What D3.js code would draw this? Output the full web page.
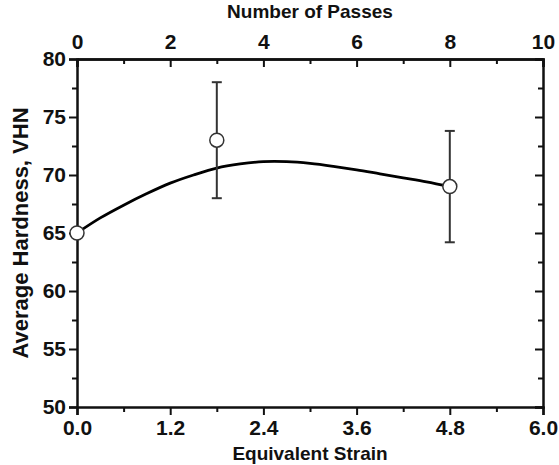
<!DOCTYPE html>
<html>
<head>
<meta charset="utf-8">
<script src="https://cdn.jsdelivr.net/npm/d3@7"></script>
<style>
  body { margin: 0; background: #fff; }
  svg text { font-family: "Liberation Sans", Arial, sans-serif; font-weight: bold; fill: #111; }
</style>
</head>
<body>
<div class="chart"></div>
<script>
// Measured points (strain, hardness, error)
const strain = [0, 1.8, 4.8]
const hardness = [65, 73, 69]
const hardErr = [0, 5, 4.8]

// Fitted trend line
const fitStrain = [0, 0.3, 0.6, 0.9, 1.2, 1.5, 1.8, 2.1, 2.4, 2.7, 3.0, 3.3, 3.6, 3.9, 4.2, 4.5, 4.8]
const fitHard = [65, 66.3, 67.4, 68.4, 69.3, 70.0, 70.6, 70.95, 71.15, 71.15, 71.0, 70.75, 70.45, 70.1, 69.75, 69.4, 69.0]

// Tick labels
const strainTicks = [0, 1.2, 2.4, 3.6, 4.8, 6.0]
const passTicks = [0, 2, 4, 6, 8, 10]
const hardTicks = [50, 55, 60, 65, 70, 75, 80]

const svgWidth = 559, svgHeight = 465
const plotL = 77, plotR = 543, plotT = 59, plotB = 407

const svg = d3.select(".chart")
  .append("svg")
  .attr("width", svgWidth)
  .attr("height", svgHeight)

const xScale = d3.scaleLinear().domain([0, 6]).range([plotL, plotR])
const passScale = d3.scaleLinear().domain([0, 10]).range([plotL, plotR])
const yScale = d3.scaleLinear().domain([50, 80]).range([plotB, plotT])

// helper for axis styling
function styleAxis(g) {
  g.select(".domain").attr("stroke", "#111").attr("stroke-width", 2.5)
  g.selectAll(".tick line").attr("stroke", "#111").attr("stroke-width", 2)
  g.selectAll(".tick text").attr("font-size", 21).attr("fill", "#111")
}

// minor ticks
function minor(axisFn, scale, vals, size, transform) {
  svg.append("g")
     .attr("transform", transform)
     .call(axisFn(scale).tickValues(vals).tickSize(size).tickFormat(""))
     .call(g => g.select(".domain").remove())
     .call(g => g.selectAll(".tick line").attr("stroke", "#111").attr("stroke-width", 2))
}

// bottom axis (outward ticks)
minor(d3.axisBottom, xScale, [0.6, 1.8, 3.0, 4.2, 5.4], 5, `translate(0,${plotB})`)
svg.append("g")
   .attr("transform", `translate(0,${plotB})`)
   .call(d3.axisBottom(xScale).tickValues(strainTicks).tickSize(8).tickPadding(5).tickFormat(d3.format(".1f")))
   .call(styleAxis)

// top axis (inward ticks)
minor(d3.axisBottom, passScale, [1, 3, 5, 7, 9], 5, `translate(0,${plotT})`)
svg.append("g")
   .attr("transform", `translate(0,${plotT})`)
   .call(d3.axisTop(passScale).tickValues(passTicks).tickSize(0).tickPadding(10))
   .call(styleAxis)
svg.append("g")
   .attr("transform", `translate(0,${plotT})`)
   .call(d3.axisBottom(passScale).tickValues(passTicks).tickSize(8).tickFormat(""))
   .call(styleAxis)

// left axis (outward ticks)
minor(d3.axisLeft, yScale, [52.5, 57.5, 62.5, 67.5, 72.5, 77.5], 5, `translate(${plotL},0)`)
svg.append("g")
   .attr("transform", `translate(${plotL},0)`)
   .call(d3.axisLeft(yScale).tickValues(hardTicks).tickSize(8).tickPadding(3))
   .call(styleAxis)

// right axis (inward ticks)
minor(d3.axisLeft, yScale, [52.5, 57.5, 62.5, 67.5, 72.5, 77.5], 5, `translate(${plotR},0)`)
svg.append("g")
   .attr("transform", `translate(${plotR},0)`)
   .call(d3.axisLeft(yScale).tickValues(hardTicks).tickSize(8).tickFormat(""))
   .call(styleAxis)

// axis titles
svg.append("text")
   .attr("x", (plotL + plotR) / 2).attr("y", 460)
   .attr("text-anchor", "middle").attr("font-size", 19)
   .text("Equivalent Strain")
svg.append("text")
   .attr("x", (plotL + plotR) / 2).attr("y", 18)
   .attr("text-anchor", "middle").attr("font-size", 19)
   .text("Number of Passes")
svg.append("text")
   .attr("transform", `translate(28,${(plotT + plotB) / 2}) rotate(-90)`)
   .attr("text-anchor", "middle").attr("font-size", 22)
   .text("Average Hardness, VHN")

// fitted curve
const line = d3.line()
  .x(d => xScale(d[0]))
  .y(d => yScale(d[1]))
  .curve(d3.curveCatmullRom)
svg.append("path")
   .datum(fitStrain.map((s, i) => [s, fitHard[i]]))
   .attr("d", line)
   .attr("fill", "none")
   .attr("stroke", "#000")
   .attr("stroke-width", 2.8)

// error bars
const pts = strain.map((s, i) => ({ s: s, h: hardness[i], e: hardErr[i] }))
const bars = svg.append("g").selectAll("g")
  .data(pts.filter(d => d.e > 0))
  .enter().append("g")
  .attr("stroke", "#333").attr("stroke-width", 2)
bars.append("line")
    .attr("x1", d => xScale(d.s)).attr("x2", d => xScale(d.s))
    .attr("y1", d => yScale(d.h - d.e)).attr("y2", d => yScale(d.h + d.e))
bars.append("line")
    .attr("x1", d => xScale(d.s) - 5).attr("x2", d => xScale(d.s) + 5)
    .attr("y1", d => yScale(d.h + d.e)).attr("y2", d => yScale(d.h + d.e))
bars.append("line")
    .attr("x1", d => xScale(d.s) - 5).attr("x2", d => xScale(d.s) + 5)
    .attr("y1", d => yScale(d.h - d.e)).attr("y2", d => yScale(d.h - d.e))

// points
svg.append("g")
   .selectAll("circle")
   .data(pts)
   .enter()
   .append("circle")
   .attr("cx", d => xScale(d.s))
   .attr("cy", d => yScale(d.h))
   .attr("r", 7)
   .attr("fill", "#fff")
   .attr("stroke", "#333")
   .attr("stroke-width", 1.5)
</script>
</body>
</html>
